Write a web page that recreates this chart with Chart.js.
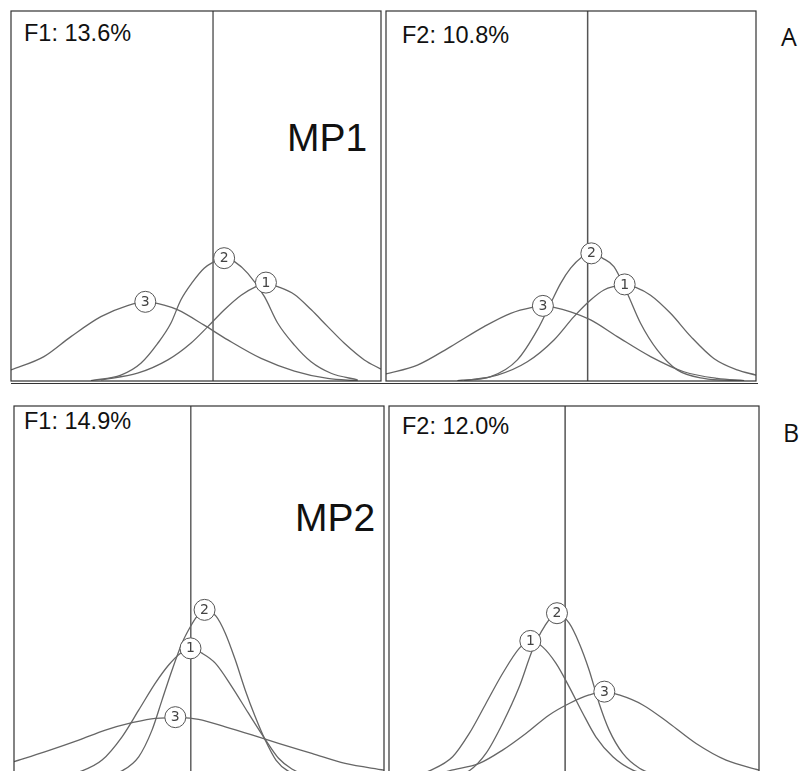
<!DOCTYPE html>
<html>
<head>
<meta charset="utf-8">
<script src="https://cdn.jsdelivr.net/npm/chart.js@4.4.1/dist/chart.umd.min.js"></script>
<style>
  html, body { margin:0; padding:0; background:#fff; width:801px; height:771px; overflow:hidden; }
  #wrap { position:relative; width:801px; height:771px; overflow:hidden; }
  canvas.pn { position:absolute; }
  .t { position:absolute; font-family:"Liberation Sans", Arial, sans-serif; color:#111; line-height:1; white-space:nowrap; }
  .big { position:absolute; font-family:"Open Sans", sans-serif; color:#111; line-height:1; }
</style>
</head>
<body>
<div id="wrap">
  <div class="t" style="left:24px; top:22px; font-size:23.5px;">F1: 13.6%</div>
  <div class="t" style="left:402px; top:24px; font-size:23.5px;">F2: 10.8%</div>
  <div class="t" style="left:24px; top:410px; font-size:23.5px;">F1: 14.9%</div>
  <div class="t" style="left:402px; top:415px; font-size:23.5px;">F2: 12.0%</div>
  <div class="t" style="left:287px; top:118px; font-size:39px;">MP1</div>
  <div class="t" style="left:295px; top:498px; font-size:39px;">MP2</div>
  <div class="big" style="left:781px; top:24px; font-size:25px;">A</div>
  <div class="big" style="left:783px; top:420px; font-size:25px;">B</div>
  <div style="position:absolute; left:11px; top:383px; width:747px; height:1px; background:#333;"></div>
</div>
<script>
// ---- data (x: position across panel 0-100, y: relative density 0-100) ----
const seriesNames = ["1", "2", "3"];
const cutoffs = { A1: 54.6, A2: 54.5, B1: 47.8, B2: 47.6 };

const A1_s1 = [[24.3,0.3],[34.2,2.1],[42.4,5.7],[48.6,10.2],[53.2,14.7],[57.6,19.2],[62.2,23.2],[66.2,25.5],[68.9,26.5],[72.1,25.5],[76.6,23.4],[81.1,19.3],[85.6,14.7],[90.1,10.2],[95.5,5.7],[100,3.2]];
const A1_s2 = [[21.6,0.1],[29.7,1.6],[35.1,4.8],[39.6,10.1],[43.2,15.6],[45.9,21.9],[49.1,26.8],[52.2,30.5],[54.8,32.2],[57.6,33.4],[60.5,32.2],[64.0,29.1],[68.5,22.8],[72.1,15.6],[76.6,9.7],[81.1,5.2],[86.5,2.1],[93.7,0.3]];
const A1_s3 = [[0,3.0],[8.9,6.6],[16.2,12.0],[24.3,17.4],[31.5,20.4],[36.3,21.4],[41.4,20.5],[45.1,19.2],[52.2,15.1],[58.6,11.1],[67.6,6.1],[76.6,2.7],[85.6,0.7],[93.7,0.1]];

const A2_s1 = [[21.1,0.1],[30.1,1.6],[38.2,5.2],[45.4,11.1],[50.8,17.4],[55.3,21.9],[58.9,24.6],[61.9,25.6],[64.5,26.1],[67.5,25.3],[71.5,23.2],[76.9,18.3],[82.4,12.0],[88.6,6.1],[94.9,3.0],[100,1.6]];
const A2_s2 = [[19.3,0.1],[28.3,1.2],[35.5,5.7],[40.9,13.8],[44.5,21.0],[47.2,26.4],[49.9,30.5],[52.8,33.4],[55.5,34.6],[58.5,33.2],[61.6,30.9],[65.2,23.7],[68.8,15.6],[73.3,8.4],[78.7,3.0],[85.9,0.7],[94.9,0.1]];
const A2_s3 = [[0,1.9],[8.5,4.3],[17.5,9.3],[26.5,14.7],[33.7,18.3],[39.5,19.9],[42.4,20.3],[45.4,19.9],[49.9,18.7],[55.3,16.5],[62.5,12.0],[71.5,6.6],[80.5,2.5],[89.5,0.7],[96.8,0.1]];

const B1_s1 = [[12,0],[18.4,1.4],[23.8,4.3],[29.2,10.6],[33.7,17.8],[38.2,25.1],[41.8,30.0],[45.0,33.2],[47.7,34.6],[50.8,33.2],[54.4,30.5],[58.9,24.1],[63.4,16.9],[67.9,9.9],[71.5,4.8],[75.1,1.9],[79,0.2]];
const B1_s2 = [[25,0],[29.2,1.4],[33.7,5.2],[37.3,12.4],[40.0,20.5],[42.7,28.6],[45.4,35.9],[47.7,40.4],[49.5,43.2],[51.5,44.9],[54.6,43.2],[57.1,38.6],[59.8,31.4],[62.5,23.2],[65.2,16.0],[67.9,9.7],[70.8,4.3],[74,1.4],[79,0]];
const B1_s3 = [[0,3.9],[8.5,6.6],[17.5,9.7],[24.7,12.4],[31.9,14.4],[38.2,15.6],[45.4,15.8],[49.9,15.3],[57.1,13.3],[64.3,11.1],[71.5,8.8],[80.5,6.1],[89.5,3.4],[100,1.6]];

const B2_s1 = [[7,0],[10.9,1.4],[17.2,5.2],[21.7,11.5],[26.2,19.6],[30.7,27.7],[35.2,34.5],[38.2,36.7],[41.5,34.9],[45.1,30.5],[48.7,24.1],[52.4,16.9],[55.9,10.6],[60.5,5.2],[65.9,1.6],[71.3,0.1]];
const B2_s2 = [[18,0],[21.7,1.4],[26.2,6.1],[30.7,14.2],[35.2,24.1],[38.8,34.1],[42.0,40.4],[45.4,44.0],[48.7,41.3],[51.4,35.9],[54.1,28.6],[56.8,19.6],[59.5,12.4],[63.2,6.1],[67.7,2.1],[73,0.1]];
const B2_s3 = [[12,0],[16.3,1.4],[24.4,3.4],[30.7,7.0],[37.0,11.5],[43.3,16.5],[48.7,19.6],[54.1,21.9],[58.2,22.8],[62.2,21.9],[68.6,19.2],[75.8,14.2],[83.0,8.8],[91.1,4.3],[100,1.6]];

// circle label anchors (data units), in series order 1,2,3
const A1_labels = [[68.9,26.6],[57.6,33.2],[36.3,21.4]];
const A2_labels = [[64.5,26.1],[55.5,34.5],[42.4,20.3]];
const B1_labels = [[47.7,34.5],[51.5,44.9],[43.6,15.9]];
const B2_labels = [[38.2,36.5],[45.4,44.0],[58.2,22.8]];

// ---- layout ----
const panels = [
  { key:"A1", left:11,  top:11,  w:370, h:370, series:[A1_s1,A1_s2,A1_s3], labels:A1_labels, vColor:"#111", vWidth:1 },
  { key:"A2", left:386, top:11,  w:370, h:370, series:[A2_s1,A2_s2,A2_s3], labels:A2_labels, vColor:"#555", vWidth:1.5 },
  { key:"B1", left:14,  top:406, w:370, h:370, series:[B1_s1,B1_s2,B1_s3], labels:B1_labels, vColor:"#111", vWidth:1 },
  { key:"B2", left:389, top:406, w:370, h:370, series:[B2_s1,B2_s2,B2_s3], labels:B2_labels, vColor:"#555", vWidth:1.5 }
];

const PAD = 3;
const framePlugin = {
  id: "frameAndLabels",
  afterDatasetsDraw(chart, args, opts) {
    const ctx = chart.ctx;
    const a = chart.chartArea;
    const xs = chart.scales.x, ys = chart.scales.y;
    ctx.save();
    ctx.strokeStyle = "#333";
    ctx.lineWidth = 1.2;
    ctx.strokeRect(a.left, a.top, a.right - a.left, a.bottom - a.top);
    opts.labels.forEach((p, i) => {
      const cx = xs.getPixelForValue(p[0]);
      const cy = ys.getPixelForValue(p[1]);
      ctx.beginPath();
      ctx.arc(cx, cy, 10.5, 0, Math.PI * 2);
      ctx.fillStyle = "#fff";
      ctx.fill();
      ctx.strokeStyle = "#555";
      ctx.lineWidth = 1;
      ctx.stroke();
      ctx.fillStyle = "#444";
      ctx.font = "14px 'DejaVu Sans', sans-serif";
      ctx.textAlign = "center";
      ctx.textBaseline = "middle";
      ctx.fillText(seriesNames[i], cx, cy + 0.5);
    });
    ctx.restore();
  }
};

const wrap = document.getElementById("wrap");
panels.forEach(p => {
  const cv = document.createElement("canvas");
  cv.className = "pn";
  const W = p.w + PAD * 2, H = p.h + PAD * 2;
  cv.width = W; cv.height = H;
  cv.style.left = (p.left - PAD) + "px";
  cv.style.top = (p.top - PAD) + "px";
  cv.style.width = W + "px";
  cv.style.height = H + "px";
  wrap.appendChild(cv);

  const datasets = p.series.map((s, i) => ({
    label: seriesNames[i],
    data: s.map(d => ({ x: d[0], y: d[1] })),
    borderColor: "#666",
    borderWidth: 1.3,
    pointRadius: 0,
    fill: false,
    cubicInterpolationMode: "monotone",
    tension: 0.4
  }));
  datasets.push({
    label: "cutoff",
    data: [{ x: cutoffs[p.key], y: 0 }, { x: cutoffs[p.key], y: 100 }],
    borderColor: p.vColor,
    borderWidth: p.vWidth,
    pointRadius: 0,
    fill: false
  });

  new Chart(cv, {
    type: "line",
    data: { datasets },
    options: {
      responsive: false,
      animation: false,
      events: [],
      layout: { padding: PAD },
      plugins: {
        legend: { display: false },
        tooltip: { enabled: false },
        frameAndLabels: { labels: p.labels }
      },
      scales: {
        x: { type: "linear", min: 0, max: 100, display: false },
        y: { type: "linear", min: 0, max: 100, display: false }
      }
    },
    plugins: [framePlugin]
  });
});
</script>
</body>
</html>
